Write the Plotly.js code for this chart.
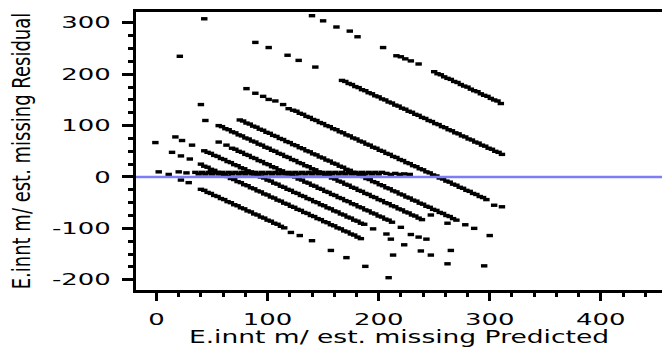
<!DOCTYPE html>
<html>
<head>
<meta charset="utf-8">
<script src="https://cdn.plot.ly/plotly-3.0.1.min.js"></script>
<style>
html, body { margin: 0; padding: 0; background: #fff; }
#chart { width: 662px; height: 347px; }
g.xtick, g.ytick, g.g-xtitle, g.g-ytitle { transform-box: fill-box; }
g.xtick { transform-origin: center; transform: scaleX(1.62); }
g.ytick { transform-origin: right center; transform: scaleX(1.62); }
g.g-xtitle { transform-origin: center; transform: scaleX(1.56); }
g.g-ytitle { transform-origin: center; transform: scaleX(1.4); }
</style>
</head>
<body>
<div id="chart"></div>
<script>
const pred454 = [140, 150, 162, 174, 181, 204, 216, 220, 224, 229, 236,
  250, 253, 256, 259, 262, 265, 268, 271, 274, 277, 280, 283, 286, 289, 292, 295, 298, 301, 304, 307, 310];
const res454  = [314, 304, 292, 284, 273, 252, 236, 234, 230, 226, 220,
  205, 201, 199, 195, 192, 190, 186, 184, 180, 177, 175, 171, 168, 166, 162, 159, 157, 153, 150, 148, 143];

const pred355 = [43, 89, 101, 118, 128, 143,
  167, 170, 173, 176, 179, 182, 185, 188, 191, 194, 197, 200, 203, 206, 209, 212, 215, 218, 221, 224, 227, 230, 233, 236,
  239, 242, 245, 248, 251, 254, 257, 260, 263, 266, 269, 272, 275, 278, 281, 284, 287, 290, 293, 296, 299, 302, 305, 308, 311];
const res355  = [308, 262, 252, 237, 227, 214,
  188, 186, 182, 180, 176, 174, 170, 168, 164, 162, 158, 156, 152, 150, 146, 144, 140, 138, 134, 132, 128, 126, 122, 120,
  116, 114, 110, 108, 104, 102, 98, 96, 92, 90, 86, 84, 80, 78, 74, 72, 68, 66, 62, 60, 56, 54, 50, 48, 44];

const pred253 = [21, 81, 89, 96, 101, 107, 114, 119,
  123, 126, 129, 132, 135, 138, 141, 144, 147, 150, 153, 156, 159, 162, 165, 168, 171, 174, 177, 180, 183, 186,
  189, 192, 195, 198, 201, 204, 207, 210, 213, 216, 219, 222, 225, 228, 231, 234, 237, 240, 243, 246, 249, 252,
  255, 258, 261, 264, 267, 270, 273, 276, 279, 282, 285, 288, 291, 294, 297, 304, 311];
const res253  = [235, 172, 163, 157, 151, 148, 141, 133,
  130, 128, 124, 122, 118, 116, 112, 110, 106, 104, 100, 98, 94, 92, 88, 86, 82, 80, 76, 74, 70, 68,
  64, 62, 58, 56, 52, 50, 46, 44, 40, 38, 34, 32, 28, 26, 22, 20, 16, 14, 10, 8, 4, 2,
  -2, -4, -8, -10, -14, -16, -20, -22, -26, -28, -32, -34, -38, -40, -44, -55, -58];

const pred187 = [40,
  75, 78, 81, 84, 87, 90, 93, 96, 99, 102, 105, 108, 111, 114, 117, 120, 123, 126, 129, 132, 135, 138, 141, 144, 147, 150,
  153, 156, 159, 162, 165, 168, 171, 174, 177, 180, 183, 186, 189, 192, 195, 198, 201, 204, 207, 210, 213, 216, 219, 222,
  225, 228, 231, 234, 237, 240, 243, 246, 249, 252, 255, 258, 261, 264, 267, 270, 278, 286, 300];
const res187  = [141,
  111, 109, 105, 103, 99, 97, 93, 91, 87, 85, 81, 79, 75, 73, 69, 67, 63, 61, 57, 55, 51, 49, 45, 43, 39, 37,
  33, 31, 27, 25, 21, 19, 15, 13, 9, 7, 3, 1, -3, -5, -9, -11, -15, -17, -21, -23, -27, -29, -33, -35,
  -39, -41, -45, -47, -51, -53, -57, -59, -63, -65, -69, -71, -75, -77, -81, -84, -93, -100, -114];

const pred155 = [44,
  56, 59, 62, 65, 68, 71, 74, 77, 80, 83, 86, 89, 92, 95, 98, 101, 104, 107, 110, 113, 116, 119, 122, 125, 128, 131,
  134, 137, 140, 143, 146, 149, 152, 155, 158, 161, 164, 167, 170, 173, 176, 179, 182, 185, 188, 191, 194, 197, 200, 203,
  206, 209, 212, 215, 218, 221, 224, 227, 230, 233, 236, 239, 247, 262];
const res155  = [110,
  100, 98, 94, 92, 88, 86, 82, 80, 76, 74, 70, 68, 64, 62, 58, 56, 52, 50, 46, 44, 40, 38, 34, 32, 28, 26,
  22, 20, 16, 14, 10, 8, 4, 2, -2, -4, -8, -10, -14, -16, -20, -22, -26, -28, -32, -34, -38, -40, -44, -46,
  -50, -52, -56, -58, -62, -64, -68, -70, -74, -76, -80, -83, -74, -90];

const pred125 = [56, 63,
  68, 71, 74, 77, 80, 83, 86, 89, 92, 95, 98, 101, 104, 107, 110, 113, 116, 119, 122, 125, 128, 131, 134, 137,
  140, 143, 146, 149, 152, 155, 158, 161, 164, 167, 170, 173, 176, 179, 182, 185, 188, 191, 194, 197, 200, 203,
  206, 209, 212, 220, 229, 236, 243, 265, 295];
const res125  = [68, 62,
  56, 54, 50, 48, 44, 42, 38, 36, 32, 30, 26, 24, 20, 18, 14, 12, 8, 6, 2, 0, -4, -6, -10, -12,
  -16, -18, -22, -24, -28, -30, -34, -36, -40, -42, -46, -48, -52, -54, -58, -60, -64, -66, -70, -72, -76, -78,
  -82, -84, -88, -98, -112, -117, -121, -143, -173];

const pred95 = [17, 23, 32, 43,
  46, 49, 52, 55, 58, 61, 64, 67, 70, 73, 76, 79, 82, 85, 88, 91, 94, 97, 100, 103, 106, 109, 112, 115,
  118, 121, 124, 127, 130, 133, 136, 139, 142, 145, 148, 151, 154, 157, 160, 163, 166, 169, 172, 175, 178, 181, 184, 187,
  195, 207, 211, 223, 238, 247, 262];
const res95  = [78, 71, 62, 51,
  48, 46, 42, 40, 36, 34, 30, 28, 24, 22, 18, 16, 12, 10, 6, 4, 0, -2, -6, -8, -12, -14, -18, -20,
  -24, -26, -30, -32, -36, -38, -42, -44, -48, -50, -54, -56, -60, -62, -66, -68, -72, -74, -78, -80, -84, -86, -90, -92,
  -101, -111, -121, -132, -144, -152, -169];

const pred64 = [-1, 14, 22, 30, 40,
  43, 46, 49, 52, 55, 58, 61, 64, 67, 70, 73, 76, 79, 82, 85, 88, 91, 94, 97, 100, 103, 106, 109, 112,
  115, 118, 121, 124, 127, 130, 133, 136, 139, 142, 145, 148, 151, 154, 157, 160, 163, 166, 169, 172, 175, 178, 181, 184,
  213];
const res64  = [67, 48, 41, 35, 25,
  21, 19, 15, 13, 9, 7, 3, 1, -3, -5, -9, -11, -15, -17, -21, -23, -27, -29, -33, -35, -39, -41, -45, -47,
  -51, -53, -57, -59, -63, -65, -69, -71, -75, -77, -81, -83, -87, -89, -93, -95, -99, -101, -105, -107, -111, -113, -117, -120,
  -152];

const pred15 = [22, 29,
  40, 43, 46, 49, 52, 55, 58, 61, 64, 67, 70, 73, 76, 79, 82, 85, 88, 91, 94, 97, 100, 103, 106, 109, 112, 115,
  121, 129, 140, 157, 171, 188, 209];
const res15  = [-6, -11,
  -24, -26, -30, -32, -36, -38, -42, -44, -48, -50, -54, -56, -60, -62, -66, -68, -72, -74, -78, -80, -84, -86, -90, -92, -96, -99,
  -108, -114, -124, -143, -157, -174, -196];

// near-horizontal run of estimated (imputed) values just above zero
const predFlat = [2, 11, 20, 27,
  35, 38, 41, 44, 47, 50, 53, 56, 59, 62, 65, 68, 71, 74, 77, 80, 83, 86, 89, 92, 95, 98, 101, 104, 107, 110, 113, 116, 119,
  122, 125, 128, 131, 134, 137, 140, 143, 146, 149, 152, 155, 158, 161, 164, 167, 170, 173, 176, 179, 182, 185, 188, 191,
  194, 197, 200, 203, 207, 211, 215, 219, 223, 228];
const resFlat  = [10, 5, 10, 8,
  9, 6, 9, 6, 9, 6, 9, 6, 9, 6, 9, 6, 9, 6, 9, 6, 9, 6, 9, 6, 9, 6, 9, 6, 9, 6, 9, 6, 9,
  6, 9, 6, 9, 6, 9, 6, 9, 6, 9, 6, 9, 6, 9, 6, 9, 6, 9, 6, 9, 6, 9, 6, 9,
  6, 9, 6, 9, 7, 5, 7, 5, 6, 5];

const yTickVals = [-200, -100, 0, 100, 200, 300];
const yTickText = ['-200', '-100', '0', '100', '200', '300'];
const xTickVals = [0, 100, 200, 300, 400];
const xTickText = ['0', '100', '200', '300', '400'];

const xTitle = 'E.innt m/ est. missing Predicted';
const yTitle = 'E.innt m/ est. missing Residual';

const bands = [
  [pred454, res454], [pred355, res355], [pred253, res253], [pred187, res187],
  [pred155, res155], [pred125, res125], [pred95, res95], [pred64, res64],
  [pred15, res15], [predFlat, resFlat]
];

const traces = bands.map(function (b) {
  return {
    type: 'scatter', mode: 'markers',
    x: b[0], y: b[1],
    marker: { symbol: 'line-ew', size: 4.6, color: '#000', line: { color: '#000', width: 3.4 } },
    hoverinfo: 'skip', showlegend: false
  };
});

const layout = {
  width: 662, height: 347,
  margin: { l: 136, r: 0, t: 12, b: 57 },
  paper_bgcolor: '#fff', plot_bgcolor: '#fff',
  showlegend: false,
  xaxis: {
    range: [-18.45, 455.1],
    tickmode: 'array', tickvals: xTickVals, ticktext: xTickText,
    ticks: 'outside', ticklen: 8, tickwidth: 3, tickcolor: '#000',
    minor: { tickmode: 'linear', tick0: 0, dtick: 20, ticks: 'outside', ticklen: 4, tickwidth: 3, tickcolor: '#000' },
    showline: true, linewidth: 3, linecolor: '#000', mirror: true,
    showgrid: false, zeroline: false,
    tickfont: { family: 'DejaVu Sans', size: 16, color: '#000' },
    ticklabelstandoff: 5,
    automargin: false,
    title: { text: xTitle, font: { family: 'DejaVu Sans', size: 17, color: '#000' }, standoff: 4 }
  },
  yaxis: {
    range: [-220, 321.2],
    tickmode: 'array', tickvals: yTickVals, ticktext: yTickText,
    ticks: 'outside', ticklen: 11, tickwidth: 3, tickcolor: '#000',
    minor: { tickmode: 'linear', tick0: 0, dtick: 25, ticks: 'outside', ticklen: 5, tickwidth: 3, tickcolor: '#000' },
    showline: true, linewidth: 3, linecolor: '#000', mirror: false,
    showgrid: false, zeroline: false,
    tickfont: { family: 'DejaVu Sans', size: 16, color: '#000' },
    ticklabelstandoff: 8,
    automargin: false,
    title: { text: yTitle, font: { family: 'DejaVu Sans', size: 18, color: '#000' }, standoff: 20 }
  },
  shapes: [{
    type: 'line', xref: 'paper', yref: 'y', x0: 0, x1: 1, y0: 0, y1: 0,
    line: { color: '#7d7df5', width: 2.5 }, layer: 'above'
  }]
};

Plotly.newPlot('chart', traces, layout, { displayModeBar: false, staticPlot: true });
</script>
</body>
</html>
